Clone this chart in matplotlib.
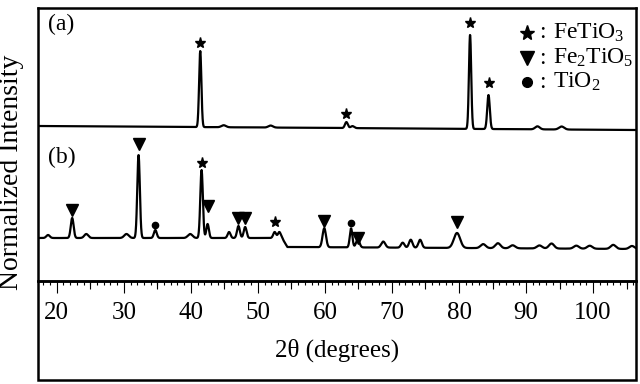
import numpy as np
import matplotlib
matplotlib.use("Agg")
import matplotlib.pyplot as plt
from matplotlib.patches import Rectangle

plt.rcParams['font.family'] = ['Liberation Serif', 'DejaVu Serif']
plt.rcParams['mathtext.fontset'] = 'custom'
plt.rcParams['mathtext.rm'] = 'Liberation Serif'
plt.rcParams['mathtext.it'] = 'Liberation Serif:italic'

# ---------------- data ----------------
x_min, x_max = 17.2, 106.4
x_ticks = [20, 30, 40, 50, 60, 70, 80, 90, 100]
x_mid_ticks = [25, 35, 45, 55, 65, 75, 85, 95, 105]

# pattern (a): FeTiO3
peaks_a_pos = [41.4, 44.9, 51.9, 63.2, 64.1, 81.65, 84.4, 91.7, 95.3]
peaks_a_int = [76, 2, 2, 6, 2, 94, 34, 3, 3]
peaks_a_fwhm = [0.4, 0.8, 0.8, 0.5, 0.6, 0.4, 0.45, 0.8, 0.9]
base_a_x = [17.2, 106.4]
base_a_y = [155, 151]

# pattern (b)
peaks_b_pos = [18.7, 22.3, 24.4, 30.4, 32.2, 34.7, 39.9, 41.6, 42.5, 45.7, 47.1, 48.1,
               52.5, 53.2, 59.9, 63.9, 64.9, 68.7, 71.6, 72.8, 74.2, 79.7, 83.6, 85.8,
               88.0, 92.0, 93.8, 97.5, 99.5, 103.0, 105.8]
peaks_b_int = [3, 20, 4, 4, 83, 8, 4, 68, 14, 6, 12, 11,
               6, 6, 19, 19, 8, 6, 5, 8, 8, 15, 4, 5,
               3, 3, 5, 3, 3, 4, 3]
peaks_b_fwhm = [0.6, 0.5, 0.7, 0.8, 0.45, 0.5, 0.8, 0.45, 0.45, 0.5, 0.5, 0.5,
                0.5, 0.5, 0.6, 0.45, 0.6, 0.7, 0.6, 0.6, 0.6, 1.1, 0.9, 0.9,
                0.9, 0.9, 0.9, 0.9, 0.9, 0.9, 0.9]
base_b_x = [17.2, 53.6, 54.4, 106.4]
base_b_y = [43, 43, 34, 32]

# phase markers
star_a_x = [41.4, 63.2, 81.65, 84.4]
star_a_y = [238, 167, 258, 198]
star_b_x = [41.6, 52.5]
star_b_y = [118, 59]
tri_b_x = [22.3, 32.2, 42.6, 47.1, 48.1, 59.9, 65.0, 79.7]
tri_b_y = [71, 137, 75, 63, 63, 60, 43, 59]
dot_b_x = [34.7, 63.9]
dot_b_y = [56, 58]

legend_labels = [r'FeTiO$_\mathrm{3}$', r'Fe$_\mathrm{2}$TiO$_\mathrm{5}$', r'TiO$_\mathrm{2}$']


def pattern(x, pos, inten, fwhm, bx, by):
    y = np.interp(x, bx, by)
    for p, h, w in zip(pos, inten, fwhm):
        s = w / 2.3548
        y = y + h * np.exp(-0.5 * ((x - p) / s) ** 2)
    return y


# ---------------- figure ----------------
W, H = 640, 384
fig = plt.figure(figsize=(6.4, 3.84), dpi=100)
L, R, T, B = 38, 636, 8, 281
ax = fig.add_axes([L / W, 1 - B / H, (R - L) / W, (B - T) / H])

x = np.linspace(x_min, x_max, 4000)
ya = pattern(x, peaks_a_pos, peaks_a_int, peaks_a_fwhm, base_a_x, base_a_y)
yb = pattern(x, peaks_b_pos, peaks_b_int, peaks_b_fwhm, base_b_x, base_b_y)
ax.plot(x, ya, color='black', lw=1.6)
ax.plot(x, yb, color='black', lw=1.6)

ax.plot(star_a_x, star_a_y, ls='none', marker='*', ms=8, color='black')
ax.plot(star_b_x, star_b_y, ls='none', marker='*', ms=8, color='black')
ax.plot(tri_b_x, tri_b_y, ls='none', marker='v', ms=8, color='black')
ax.plot(dot_b_x, dot_b_y, ls='none', marker='o', ms=4.5, color='black')

ax.set_xlim(x_min, x_max)
ax.set_ylim(0, B - T)
ax.set_yticks([])
ax.set_xticks(x_ticks)
ax.set_xticklabels([str(t) for t in x_ticks], fontsize=18)
ax.set_xticks(np.arange(18, 107, 1), minor=True)
ax.tick_params(axis='x', which='major', direction='out', length=8.6, width=0.8, pad=6.5)
ax.tick_params(axis='x', which='minor', direction='out', length=2.9, width=0.8)
for s in ax.spines.values():
    s.set_linewidth(1.8)

sec = ax.secondary_xaxis('bottom')
sec.set_xticks(x_mid_ticks)
sec.xaxis.set_minor_locator(matplotlib.ticker.NullLocator())
sec.tick_params(axis='x', direction='out', length=5.8, width=0.8, labelbottom=False)
sec.spines['bottom'].set_visible(False)

# lower box around tick labels / x label
fig.patches.append(Rectangle((L / W, 1 - 380 / H), (R - L) / W, (380 - B) / H,
                             fill=False, lw=1.8, edgecolor='black',
                             transform=fig.transFigure))

fig.text((L + R) / 2 / W, 1 - 350 / H, '2θ (degrees)', ha='center', va='center', fontsize=18)
fig.text(12 / W, 1 - 172 / H, 'Normalized Intensity', rotation=90, ha='center',
         va='center', fontsize=20)

ax.text((48 - L) / (R - L), (B - 24) / (B - T), '(a)', transform=ax.transAxes,
        ha='left', va='center', fontsize=17)
ax.text((48 - L) / (R - L), (B - 157) / (B - T), '(b)', transform=ax.transAxes,
        ha='left', va='center', fontsize=17)

# legend
leg_marks = ['*', 'v', 'o']
leg_ms = [11, 10, 7]
leg_y = [33, 58, 82]
for m, ms, lab, py in zip(leg_marks, leg_ms, legend_labels, leg_y):
    yy = (B - py) / (B - T)
    ax.plot([(527 - L) / (R - L)], [yy], marker=m, ms=ms, color='black',
            transform=ax.transAxes, clip_on=False)
    ax.text((542 - L) / (R - L), yy, ':', transform=ax.transAxes, ha='center',
            va='center', fontsize=17)
    ax.text((553 - L) / (R - L), yy, lab, transform=ax.transAxes, ha='left',
            va='center', fontsize=17)

fig.savefig('out.png', dpi=100)
